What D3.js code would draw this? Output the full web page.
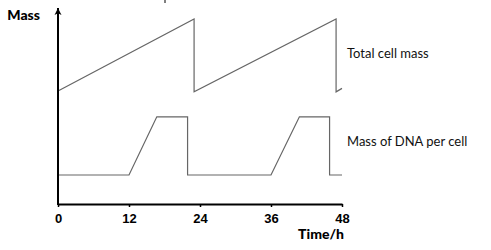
<!DOCTYPE html>
<html>
<head>
<meta charset="utf-8">
<script src="https://cdn.jsdelivr.net/npm/d3@7"></script>
<style>
  body { margin: 0; background: #fff; }
  svg { display: block; font-family: Lato, "Open Sans", sans-serif; }
  .axis--x .domain { stroke: #000; stroke-width: 2; }
  .axis--x .tick line { stroke: #000; stroke-width: 1.5; }
  .axis--x .tick text { font-size: 13px; font-weight: 900; fill: #000; }
  .series { fill: none; stroke: #666; stroke-width: 1.2; }
  .label { font-size: 13px; fill: #111; }
  .title { font-size: 14px; font-weight: 900; fill: #000; }
</style>
</head>
<body>
<svg id="chart"></svg>
<script>
const fullWidth = 491;
const fullHeight = 250;

// time ticks (hours)
const timeTicks = [0, 12, 24, 36, 48];

// total cell mass, arbitrary units: [hour, mass]
const cellMass = [
    [0, 57.7], [23, 94.4], [23, 57.2], [47, 94.4], [47, 57.2], [48, 59]
];

// DNA per cell, arbitrary units: [hour, mass]
const dnaMass = [
    [0, 14.8], [12, 14.8], [16.7, 44.5], [21.9, 44.5], [21.9, 14.8],
    [36, 14.8], [40.8, 44.5], [45.9, 44.5], [45.9, 14.8], [48, 14.8]
];

const seriesLabels = [
    {text: 'Total cell mass', value: 74.5},
    {text: 'Mass of DNA per cell', value: 29.6}
];

const margin = {top: 8, right: 149, bottom: 46, left: 58};
const width = fullWidth - margin.left - margin.right;
const height = fullHeight - margin.top - margin.bottom;

const xScale = d3.scaleLinear()
    .domain([0, 48])
    .range([0, width]);

const yScale = d3.scaleLinear()
    .domain([0, 100])
    .range([height, 0]);

const xAxis = d3.axisBottom(xScale)
    .tickValues(timeTicks)
    .tickSize(3)
    .tickSizeOuter(0)
    .tickPadding(7);

const svg = d3.select('#chart')
    .attr('width', fullWidth)
    .attr('height', fullHeight);

const defs = svg.append('defs');
defs.append('marker')
    .attr('id', 'arrow')
    .attr('viewBox', '0 0 10 10')
    .attr('refX', 10)
    .attr('refY', 5)
    .attr('markerUnits', 'userSpaceOnUse')
    .attr('markerWidth', 7)
    .attr('markerHeight', 10)
    .attr('orient', 'auto')
    .append('path')
    .attr('d', 'M0,0 L10,5 L0,10 L2.5,5 Z')
    .attr('fill', '#000');

// small stray mark at the top edge of the original scan
svg.append('line')
    .attr('x1', 165).attr('x2', 165)
    .attr('y1', 0).attr('y2', 3)
    .attr('stroke', '#000')
    .attr('stroke-width', 1);

const g = svg.append('g')
    .attr('transform', `translate(${margin.left}, ${margin.top})`);

const line = d3.line()
    .x(d => xScale(d[0]))
    .y(d => yScale(d[1]));

g.append('path')
    .datum(cellMass)
    .attr('class', 'series series--cell')
    .attr('d', line);

g.append('path')
    .datum(dnaMass)
    .attr('class', 'series series--dna')
    .attr('d', line);

const gXAxis = g.append('g')
    .attr('class', 'axis axis--x')
    .attr('transform', `translate(0, ${height})`)
    .call(xAxis);

// y axis with arrow
g.append('line')
    .attr('x1', 0).attr('x2', 0)
    .attr('y1', height + 1).attr('y2', yScale(100))
    .attr('stroke', '#000')
    .attr('stroke-width', 2)
    .attr('marker-end', 'url(#arrow)');

g.append('text')
    .attr('class', 'title')
    .attr('x', -18)
    .attr('y', 12)
    .attr('text-anchor', 'end')
    .text('Mass');

g.append('text')
    .attr('class', 'title')
    .attr('x', width + 2)
    .attr('y', height + 35)
    .attr('text-anchor', 'end')
    .text('Time/h');

g.selectAll('.label').data(seriesLabels)
    .enter().append('text')
    .attr('class', 'label')
    .attr('x', width + 5)
    .attr('y', d => yScale(d.value))
    .text(d => d.text);
</script>
</body>
</html>
